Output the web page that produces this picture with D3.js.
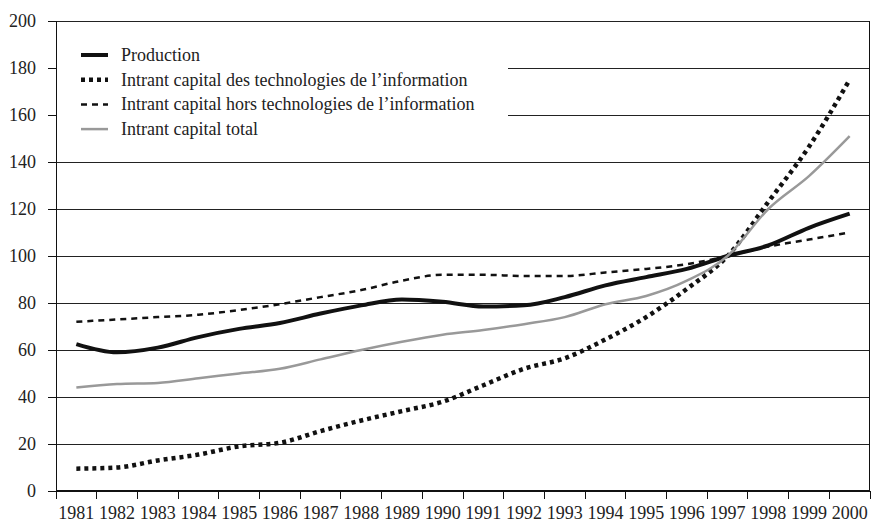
<!DOCTYPE html>
<html>
<head>
<meta charset="utf-8">
<title>Production et intrant capital</title>
<script src="https://d3js.org/d3.v7.min.js"></script>
<style>
	body { margin: 0; background: #fff; }
	text { font-family: "Liberation Serif", "Times New Roman", serif; font-size: 18px; fill: #222; }
</style>
</head>
<body>
<script>

	// data (index, 1997 = 100)
	var years = ["1981","1982","1983","1984","1985","1986","1987","1988","1989","1990",
		"1991","1992","1993","1994","1995","1996","1997","1998","1999","2000"];
	var production = [62.5, 59, 61, 65.5, 69, 71.5, 75.5, 79, 81.5, 80.5, 78.5, 79, 82.5, 87.5, 91, 94.5, 100, 104.5, 112, 118];
	var capitalTI = [9.5, 10, 13, 15.5, 19, 20.5, 25.5, 30, 34, 38, 45, 52, 56.5, 64.5, 74, 86, 100, 123, 146.5, 175];
	var capitalHorsTI = [72, 73, 74, 75, 77, 79.5, 82.5, 85.5, 89.5, 92, 92, 91.5, 91.5, 93, 94.5, 96.5, 100, 104, 107, 110];
	var capitalTotal = [44, 45.5, 46, 48, 50, 52, 56, 60, 63.5, 66.5, 68.5, 71, 74, 79.5, 83, 89.5, 100, 120, 134, 151];
	var yTicks = [0, 20, 40, 60, 80, 100, 120, 140, 160, 180, 200];
	var legendLabels = ["Production",
		"Intrant capital des technologies de l\u2019information",
		"Intrant capital hors technologies de l\u2019information",
		"Intrant capital total"];

	var W = 871, H = 523;
	var plotLeft = 56, plotRight = 870, plotTop = 21, plotBottom = 491;

	// series styles
	var series = [
		{ values : production, color : "#111", width : 4, dash : null },
		{ values : capitalTI, color : "#111", width : 4.5, dash : "4,4" },
		{ values : capitalHorsTI, color : "#111", width : 2.5, dash : "6,5" },
		{ values : capitalTotal, color : "#999", width : 2.5, dash : null }
	];

	var svg = d3.select("body").append("svg")
		.attr("width", W)
		.attr("height", H);

	var x = d3.scaleBand().domain(years).range([plotLeft, plotRight]);
	var y = d3.scaleLinear().domain([0, 200]).range([plotBottom, plotTop]);
	var cx = function (i) { return x(years[i]) + x.bandwidth() / 2; };

	// gridlines
	svg.append("g")
		.attr("shape-rendering", "crispEdges")
		.selectAll("line")
		.data(yTicks.filter(function (d) { return d > 0; }))
		.enter().append("line")
		.attr("x1", plotLeft).attr("x2", plotRight)
		.attr("y1", function (d) { return Math.round(y(d)) + 0.5; })
		.attr("y2", function (d) { return Math.round(y(d)) + 0.5; })
		.attr("stroke", "#222")
		.attr("stroke-width", 1);

	// y axis
	var yAxis = svg.append("g")
		.attr("transform", "translate(" + plotLeft + ",0)")
		.attr("shape-rendering", "crispEdges")
		.call(d3.axisLeft(y).tickValues(yTicks).tickSize(8).tickPadding(12));
	yAxis.attr("font-size", null).attr("font-family", null);
	yAxis.select(".domain").attr("stroke", "#111").attr("stroke-width", 1.5);
	yAxis.selectAll(".tick line").attr("stroke", "#111").attr("stroke-width", 1);
	yAxis.selectAll("text").attr("fill", null);

	// x axis : labels at band centres, ticks at band edges
	var xAxis = svg.append("g")
		.attr("transform", "translate(0," + plotBottom + ")")
		.call(d3.axisBottom(x).tickSize(0).tickPadding(15));
	xAxis.attr("font-size", null).attr("font-family", null);
	xAxis.select(".domain").remove();
	xAxis.selectAll("text").attr("fill", null);

	var edges = years.map(function (d) { return x(d); }).concat([plotRight]);
	svg.append("g")
		.attr("shape-rendering", "crispEdges")
		.selectAll("line")
		.data(edges)
		.enter().append("line")
		.attr("x1", function (d) { return d; }).attr("x2", function (d) { return d; })
		.attr("y1", plotBottom).attr("y2", plotBottom + 8)
		.attr("stroke", "#111")
		.attr("stroke-width", 1);

	svg.append("line")
		.attr("shape-rendering", "crispEdges")
		.attr("x1", plotLeft).attr("x2", plotRight)
		.attr("y1", plotBottom).attr("y2", plotBottom)
		.attr("stroke", "#111").attr("stroke-width", 1.5);

	// right border
	svg.append("line")
		.attr("shape-rendering", "crispEdges")
		.attr("x1", plotRight - 0.5).attr("x2", plotRight - 0.5)
		.attr("y1", plotTop).attr("y2", plotBottom)
		.attr("stroke", "#111").attr("stroke-width", 1);

	// legend box (hides gridlines behind it)
	svg.append("rect")
		.attr("x", plotLeft + 1).attr("y", plotTop + 2)
		.attr("width", 508 - plotLeft - 1).attr("height", y(140) - plotTop - 8)
		.attr("fill", "#fff");

	// lines
	var line = d3.line()
		.x(function (d, i) { return cx(i); })
		.y(function (d) { return y(d); })
		.curve(d3.curveMonotoneX);

	svg.append("g")
		.selectAll("path")
		.data(series)
		.enter().append("path")
		.attr("d", function (s) { return line(s.values); })
		.attr("fill", "none")
		.attr("stroke", function (s) { return s.color; })
		.attr("stroke-width", function (s) { return s.width; })
		.attr("stroke-dasharray", function (s) { return s.dash; });

	// legend
	var legend = svg.append("g")
		.selectAll("g")
		.data(series)
		.enter().append("g")
		.attr("transform", function (d, i) { return "translate(81," + (55 + i * 24.7) + ")"; });

	legend.append("line")
		.attr("x1", 0).attr("x2", 27)
		.attr("stroke", function (s) { return s.color; })
		.attr("stroke-width", function (s) { return s.width; })
		.attr("stroke-dasharray", function (s) { return s.dash; });

	legend.append("text")
		.attr("x", 40)
		.attr("dy", "0.33em")
		.text(function (d, i) { return legendLabels[i]; });

</script>
</body>
</html>
